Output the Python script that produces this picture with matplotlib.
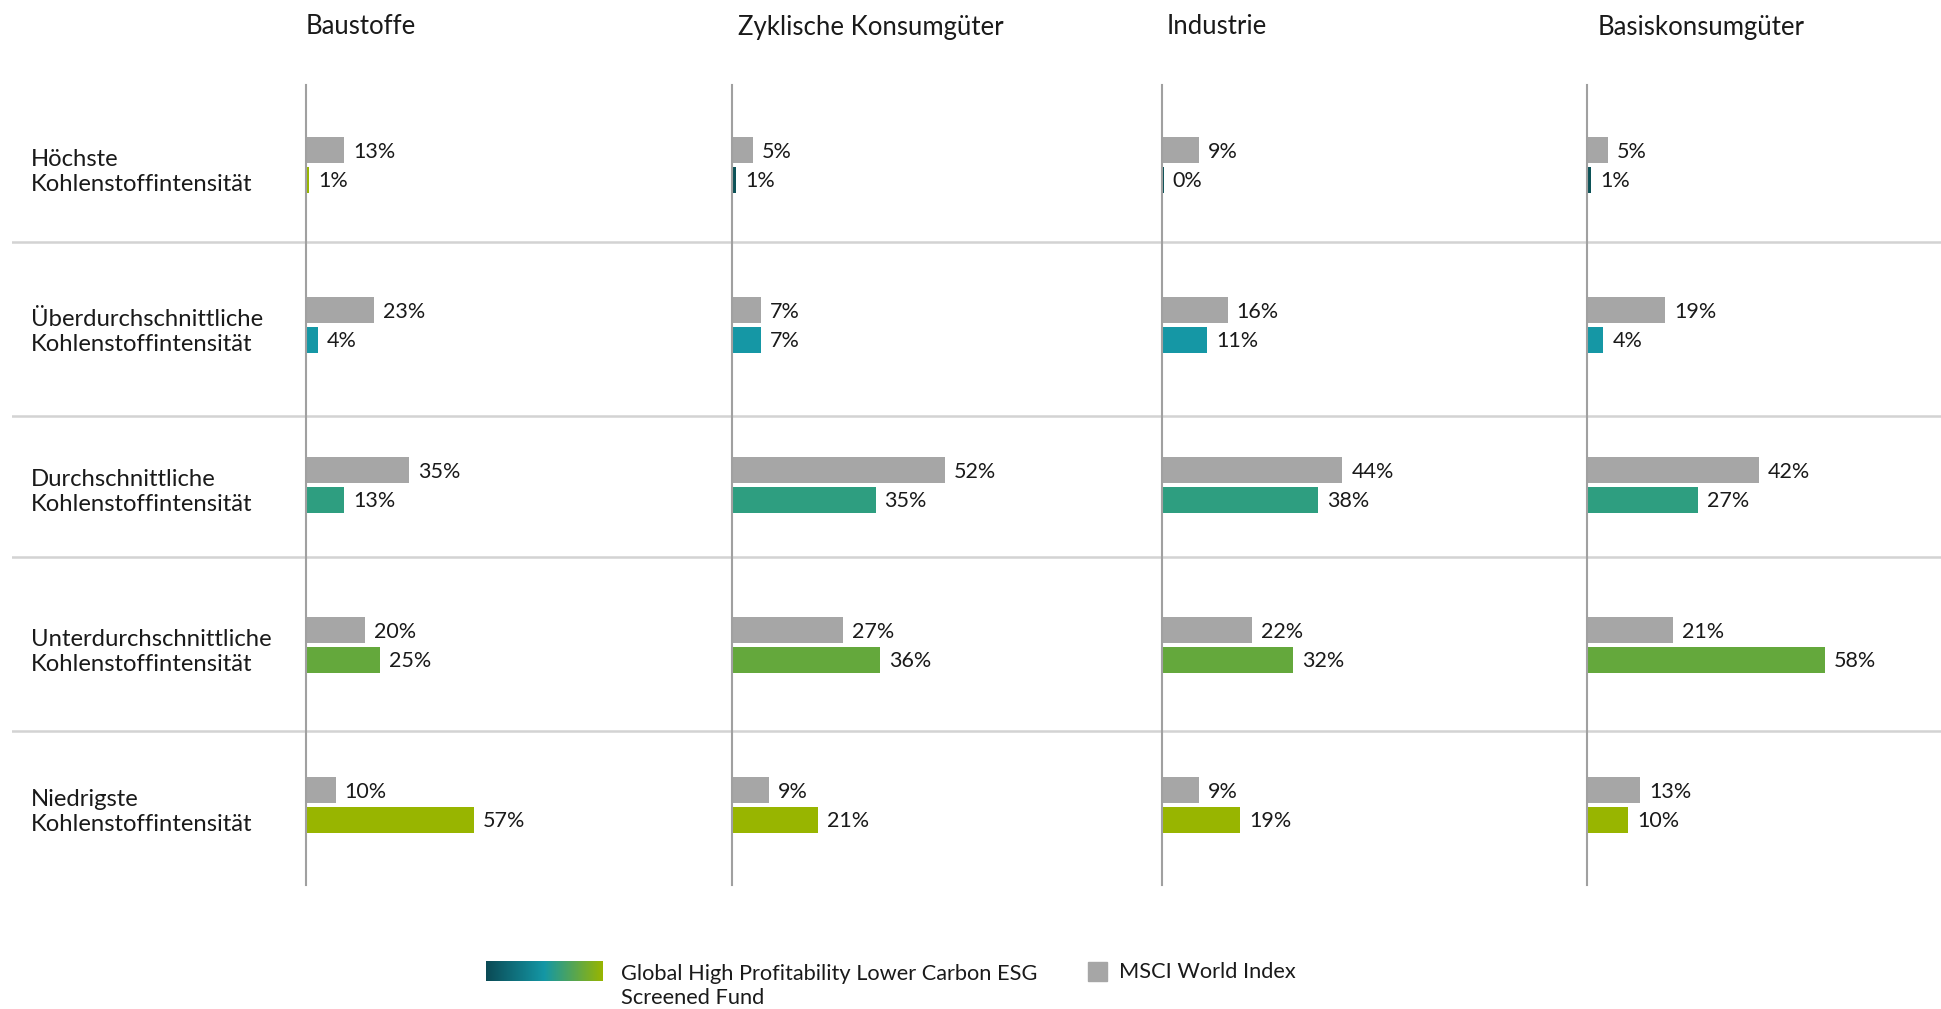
import numpy as np
import matplotlib
matplotlib.use("Agg")
import matplotlib.pyplot as plt
from matplotlib import transforms
from matplotlib.colors import LinearSegmentedColormap
from matplotlib.patches import Rectangle

plt.rcParams['font.family'] = ['Lato', 'DejaVu Sans']

# data
sectors = ["Baustoffe", "Zyklische Konsumgüter", "Industrie", "Basiskonsumgüter"]
rows = ["Höchste\nKohlenstoffintensität",
        "Überdurchschnittliche\nKohlenstoffintensität",
        "Durchschnittliche\nKohlenstoffintensität",
        "Unterdurchschnittliche\nKohlenstoffintensität",
        "Niedrigste\nKohlenstoffintensität"]
msci = [[13, 23, 35, 20, 10],
        [5, 7, 52, 27, 9],
        [9, 16, 44, 22, 9],
        [5, 19, 42, 21, 13]]
fund = [[1, 4, 13, 25, 57],
        [1, 7, 35, 36, 21],
        [0.4, 11, 38, 32, 19],
        [1, 4, 27, 58, 10]]
fund_label = "Global High Profitability Lower Carbon ESG\nScreened Fund"
msci_label = "MSCI World Index"

grey = "#A6A6A6"
row_colors = ["#0C5257", "#1597A5", "#2E9E80", "#64A83C", "#98B500"]

W, H = 1941, 1009
fig = plt.figure(figsize=(W / 100, H / 100), dpi=100)

col_x = [306, 732, 1162, 1587]
px_per_pct = [2.95, 4.1, 4.1, 4.1]
title_x = [306, 738, 1167, 1598]
top, bottom = 85, 885

# background: separators + row labels
bg = fig.add_axes([12 / W, 1 - bottom / H, (W - 12) / W, (bottom - top) / H], zorder=0)
bg.set_ylim(4.5, -0.5)
bg.set_xlim(0, 1)
bg.axis("off")
for s in [0.48, 1.57, 2.45, 3.54]:
    bg.axhline(s, color="#D3D3D3", lw=1.8)
tr = transforms.blended_transform_factory(fig.transFigure, bg.transData)
for i, r in enumerate(rows):
    bg.text(31 / W, i + 0.045, r, transform=tr, fontsize=17.2, va="center",
            ha="left", linespacing=1.2, color="#1a1a1a")

y = np.arange(len(rows))
off = 0.091
bh = 0.163
for c, name in enumerate(sectors):
    x0 = col_x[c]
    x1 = col_x[c + 1] if c + 1 < len(col_x) else W
    ax = fig.add_axes([x0 / W, 1 - bottom / H, (x1 - x0) / W, (bottom - top) / H], zorder=1)
    ax.patch.set_alpha(0)
    ax.set_ylim(4.5, -0.5)
    ax.set_xlim(0, (x1 - x0) / px_per_pct[c])
    for sp in ["top", "right", "bottom"]:
        ax.spines[sp].set_visible(False)
    ax.spines["left"].set_color("#A0A0A0")
    ax.spines["left"].set_linewidth(1.5)
    ax.set_xticks([])
    ax.set_yticks([])

    colors = list(row_colors)
    if c == 0:
        colors[0] = "#98B500"
    ax.barh(y - off, msci[c], height=bh, color=grey)
    ax.barh(y + off, fund[c], height=bh, color=colors)
    for i in range(len(rows)):
        ax.annotate(f"{msci[c][i]:.0f}%", (msci[c][i], y[i] - off), xytext=(6.5, -1),
                    textcoords="offset points", va="center", fontsize=15.5, color="#1a1a1a")
        ax.annotate(f"{fund[c][i]:.0f}%", (fund[c][i], y[i] + off), xytext=(6.5, -1),
                    textcoords="offset points", va="center", fontsize=15.5, color="#1a1a1a")

    fig.text(title_x[c] / W, 1 - 27 / H, name, fontsize=18.5, va="center", ha="left",
             color="#1a1a1a")

# legend
gax = fig.add_axes([486 / W, 1 - 981 / H, 117 / W, 20 / H])
cmap = LinearSegmentedColormap.from_list("fund", ["#0B4A55", "#1497A5", "#98B500"])
gax.imshow(np.linspace(0, 1, 256)[None, :], aspect="auto", cmap=cmap)
gax.axis("off")
fig.text(621 / W, 1 - 986 / H, fund_label, fontsize=15.7, va="center", ha="left",
         linespacing=1.3, color="#1a1a1a")
fig.patches.append(Rectangle((1088 / W, 1 - 981 / H), 19 / W, 19 / H,
                             transform=fig.transFigure, color=grey))
fig.text(1119 / W, 1 - 972 / H, msci_label, fontsize=15.7, va="center", ha="left",
         color="#1a1a1a")

fig.savefig("out.png", dpi=100)
